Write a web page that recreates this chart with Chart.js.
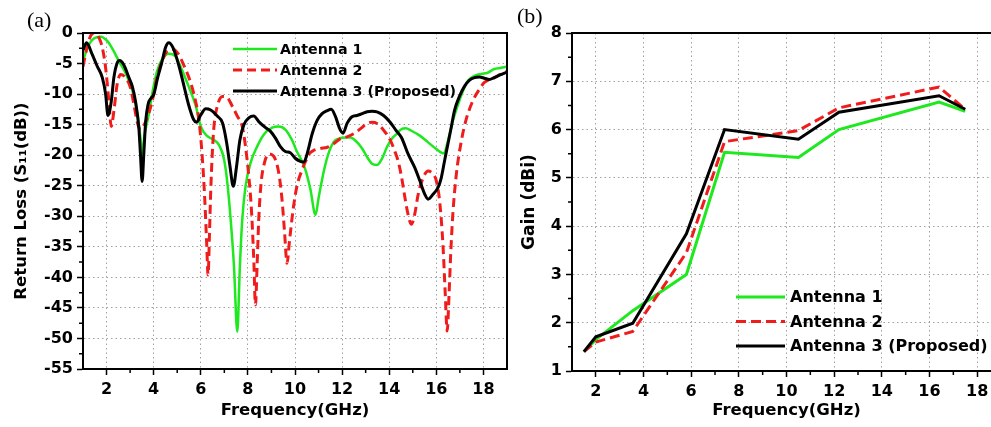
<!DOCTYPE html>
<html lang="en">
<head>
<meta charset="UTF-8">
<title>Return loss and gain of the antennas</title>
<script src="https://cdn.jsdelivr.net/npm/chart.js"></script>
<style>
  html, body { margin: 0; padding: 0; background: #fff; overflow: hidden; }
  body { width: 991px; height: 427px; position: relative; }
  .panel { position: absolute; top: 0; width: 520px; height: 427px; }
  #wrapA { left: 0; }
  #wrapB { left: 500px; }
  .tag { position: absolute; font-family: "Liberation Serif", serif; font-size: 22px; color: #000; line-height: 1; }
</style>
</head>
<body>
<div class="panel" id="wrapA"><canvas id="chartA" width="520" height="427"></canvas></div>
<div class="panel" id="wrapB"><canvas id="chartB" width="520" height="427"></canvas></div>
<div class="tag" style="left:27px; top:9px;">(a)</div>
<div class="tag" style="left:517px; top:5px;">(b)</div>
<script>
// ---- (a) return loss, S11 in dB ----
const freqA1 = [1.0, 1.25, 1.46, 1.75, 2.03, 2.31, 2.52, 2.8, 3.1, 3.3, 3.45, 3.52, 3.6, 3.79, 3.93, 4.14, 4.36, 4.64, 4.92, 5.2,
  5.48, 5.77, 6.0, 6.28, 6.56, 6.77, 6.99, 7.13, 7.27, 7.41, 7.55, 7.66, 7.76, 7.9, 8.11, 8.39, 8.68, 9.03, 9.31, 9.59,
  9.87, 10.08, 10.3, 10.45, 10.66, 10.87, 11.01, 11.23, 11.44, 11.65, 11.86, 12.14, 12.35, 12.56, 12.85, 13.06, 13.27, 13.48, 13.69, 13.9,
  14.11, 14.32, 14.5, 14.7, 14.94, 15.3, 15.65, 16.0, 16.32, 16.49, 16.7, 16.92, 17.13, 17.34, 17.62, 17.9, 18.18, 18.46, 18.75, 19.0];
const lossA1 = [-4.5, -1.9, -0.9, -0.6, -1.3, -3.0, -4.6, -6.5, -9.5, -13, -17.5, -20, -17, -13.4, -10.1, -6.3, -4.3, -3.4, -3.8, -6,
  -8.7, -11.7, -15.3, -16.9, -17.5, -18.3, -20.7, -24.6, -30.6, -38.2, -48.9, -38.2, -30.6, -25.1, -21.3, -18.6, -16.6, -15.5, -15.3, -15.8,
  -17.5, -19.4, -21, -22.5, -25.7, -29.8, -26.8, -22.5, -19.5, -17.8, -17.3, -17.1, -17.1, -17.6, -18.9, -20.3, -21.4, -21.6, -20.6, -18.7,
  -17.3, -16.5, -15.8, -15.6, -16, -16.8, -17.9, -19, -19.7, -17.7, -14.4, -11.7, -9.5, -7.8, -7, -6.7, -6.5, -5.9, -5.7, -5.5];

const freqA2 = [1.0, 1.18, 1.32, 1.46, 1.68, 1.82, 1.96, 2.1, 2.2, 2.31, 2.45, 2.6, 2.75, 3.02, 3.16, 3.33, 3.45, 3.6, 3.72, 3.86,
  3.97, 4.14, 4.36, 4.57, 4.85, 5.06, 5.27, 5.55, 5.77, 5.93, 6.07, 6.17, 6.25, 6.31, 6.37, 6.42, 6.49, 6.56, 6.7, 6.92,
  7.13, 7.34, 7.55, 7.76, 7.9, 8.04, 8.15, 8.25, 8.32, 8.39, 8.46, 8.56, 8.7, 8.89, 9.1, 9.31, 9.45, 9.56, 9.66, 9.77,
  9.92, 10.08, 10.3, 10.45, 10.6, 10.8, 11.08, 11.37, 11.65, 11.93, 12.21, 12.49, 12.77, 13.06, 13.27, 13.48, 13.76, 14.04, 14.25, 14.38,
  14.52, 14.66, 14.8, 14.94, 15.08, 15.23, 15.44, 15.65, 15.86, 16.0, 16.14, 16.28, 16.38, 16.46, 16.54, 16.61, 16.7, 16.85, 17.06, 17.27,
  17.55, 17.83, 18.04, 18.32, 18.61, 19.0];
const lossA2 = [-5.5, -2.2, -0.5, 0, -0.8, -2.4, -5.7, -11.2, -15.3, -12.8, -8.4, -6.8, -7.1, -9, -11.7, -15, -15.8, -15, -13.9, -12.3,
  -10.6, -7.3, -4.6, -3, -2.7, -3.5, -5.2, -7.9, -11, -14.5, -20.7, -27.3, -34.4, -39.6, -32.8, -26.2, -19.6, -15.3, -12, -10.4,
  -10.6, -12, -13.6, -15.3, -18.6, -23.5, -28.9, -37.1, -44.5, -38.2, -30.6, -24.6, -21.3, -19.8, -20.2, -22.9, -27.3, -32.8, -37.7, -33.9,
  -28.9, -25.1, -22.4, -21, -19.8, -19.2, -18.9, -18.7, -18.1, -17.3, -17, -16.5, -15.7, -14.8, -14.6, -14.8, -15.9, -17.5, -19.5, -21,
  -23.5, -26.8, -29.7, -31.3, -29.7, -26.4, -23.7, -22.6, -23.1, -24.2, -27.5, -34.6, -42.8, -48.8, -42.8, -36.2, -29.7, -23.1, -17.7, -14.1,
  -11.1, -9.2, -8.1, -7.6, -7, -6.3];

const freqA3 = [1.0, 1.15, 1.39, 1.6, 1.82, 1.96, 2.06, 2.2, 2.31, 2.45, 2.56, 2.73, 2.95, 3.09, 3.23, 3.37, 3.44, 3.51, 3.58, 3.66,
  3.76, 3.9, 4.0, 4.17, 4.36, 4.5, 4.64, 4.82, 5.06, 5.27, 5.48, 5.7, 5.82, 6.0, 6.21, 6.42, 6.7, 6.92, 7.1, 7.24,
  7.38, 7.52, 7.66, 7.83, 8.04, 8.25, 8.46, 8.75, 8.96, 9.17, 9.38, 9.59, 9.8, 10.01, 10.23, 10.38, 10.52, 10.73, 10.94, 11.15,
  11.37, 11.54, 11.72, 11.9, 12.04, 12.21, 12.42, 12.63, 12.85, 13.06, 13.27, 13.48, 13.76, 14.04, 14.3, 14.52, 14.8, 15.08, 15.3, 15.51,
  15.65, 15.86, 16.07, 16.21, 16.35, 16.49, 16.63, 16.77, 16.99, 17.2, 17.41, 17.62, 17.83, 18.04, 18.25, 18.46, 18.68, 19.0];
const lossA3 = [-2.8, -1.6, -3.5, -5.4, -7.3, -10, -13.5, -11.2, -7.3, -4.9, -4.5, -5.2, -7.3, -8.7, -11.2, -15.5, -19.9, -24.3, -19.9, -14.5,
  -11.7, -10.6, -10.1, -7.3, -4.6, -2.4, -1.6, -2.4, -5.2, -8.4, -11.7, -14.2, -14.6, -13.4, -12.4, -12.6, -13.6, -14.7, -18, -21.8,
  -25.1, -21.8, -17.5, -15, -13.9, -13.6, -14.5, -15.5, -16.1, -17.2, -18.6, -19.4, -19.6, -20.5, -21, -21.1, -19.7, -16.5, -14.3, -13.2,
  -12.7, -12.5, -13.7, -15.7, -16.4, -14.8, -13.7, -13.5, -13.2, -12.9, -12.8, -12.9, -13.5, -14.6, -16, -17.1, -19.8, -22, -24.2, -26.4,
  -27.2, -26.4, -25.3, -23.7, -20.9, -18.2, -15.5, -12.7, -10.3, -8.7, -7.7, -7.3, -7.2, -7.4, -7.6, -7.3, -6.9, -6.4];

const xTicksA = [2, 4, 6, 8, 10, 12, 14, 16, 18];
const yTicksA = [0, -5, -10, -15, -20, -25, -30, -35, -40, -45, -50, -55];
const xMinorA = [3, 5, 7, 9, 11, 13, 15, 17];
const yMinorA = [-2.5, -7.5, -12.5, -17.5, -22.5, -27.5, -32.5, -37.5, -42.5, -47.5, -52.5];

// ---- (b) gain in dBi ----
const freqB = [1.5, 2, 3.55, 5.8, 7.4, 10.5, 12.2, 16.4, 17.5];
const gainB1 = [1.4, 1.65, 2.25, 3.0, 5.53, 5.42, 6.0, 6.57, 6.38];
const gainB2 = [1.4, 1.6, 1.82, 3.45, 5.75, 5.98, 6.45, 6.88, 6.42];
const gainB3 = [1.4, 1.71, 1.99, 3.84, 6.0, 5.8, 6.36, 6.7, 6.42];

const xTicksB = [2, 4, 6, 8, 10, 12, 14, 16, 18];
const yTicksB = [1, 2, 3, 4, 5, 6, 7, 8];
const xMinorB = [3, 5, 7, 9, 11, 13, 15, 17];
const yMinorB = [1.5, 2.5, 3.5, 4.5, 5.5, 6.5, 7.5];

const labels = ['Antenna 1', 'Antenna 2', 'Antenna 3 (Proposed)'];
const FAMILY = "'DejaVu Sans', sans-serif";

function pts(xs, ys) {
  return xs.map((x, i) => ({ x: x, y: ys[i] }));
}

// box, minor ticks and the legend inside the plot
const framePlugin = {
  id: 'frame',
  afterDatasetsDraw(chart, args, opts) {
    const { ctx, chartArea: a, scales } = chart;
    ctx.save();
    ctx.strokeStyle = '#000';
    ctx.lineWidth = 1.5;
    ctx.setLineDash([]);
    ctx.beginPath();
    opts.xMinor.forEach(v => {
      const px = scales.x.getPixelForValue(v);
      ctx.moveTo(px, a.bottom);
      ctx.lineTo(px, a.bottom + opts.minorLen);
    });
    opts.yMinor.forEach(v => {
      const py = scales.y.getPixelForValue(v);
      ctx.moveTo(a.left, py);
      ctx.lineTo(a.left - opts.minorLen, py);
    });
    ctx.stroke();
    ctx.lineWidth = 2;
    ctx.strokeRect(a.left, a.top, a.right - a.left, a.bottom - a.top);

    const lg = opts.legend;
    ctx.font = 'bold ' + lg.size + 'px ' + FAMILY;
    ctx.textBaseline = 'middle';
    ctx.fillStyle = '#000';
    chart.data.datasets.forEach((ds, i) => {
      const y = lg.y + i * lg.gap;
      ctx.strokeStyle = ds.borderColor;
      ctx.lineWidth = ds.borderWidth;
      ctx.setLineDash(ds.borderDash || []);
      ctx.beginPath();
      ctx.moveTo(lg.x, y);
      ctx.lineTo(lg.x + lg.len, y);
      ctx.stroke();
      ctx.fillText(ds.label, lg.x + lg.len + lg.textGap, y + 1);
    });
    ctx.restore();
  }
};

function axes(cfg) {
  const font = { family: FAMILY, weight: 'bold', size: 16 };
  const titleFont = { family: FAMILY, weight: 'bold', size: 16.5 };
  return {
    x: {
      type: 'linear', min: cfg.xMin, max: cfg.xMax,
      afterBuildTicks: s => { s.ticks = cfg.xTicks.map(v => ({ value: v })); },
      afterFit: s => { s.height = cfg.xHeight; },
      ticks: { font: font, color: '#000', padding: 5, maxRotation: 0, autoSkip: false },
      grid: { color: '#a0a0a0', lineWidth: 1, tickLength: 6, tickColor: '#000', tickWidth: 1.5, tickBorderDash: [] },
      border: { color: '#000', width: 2, dash: [1.5, 3] },
      title: { display: true, text: 'Frequency(GHz)', font: titleFont, color: '#000', padding: { top: 0, bottom: 6 } }
    },
    y: {
      type: 'linear', min: cfg.yMin, max: cfg.yMax,
      afterBuildTicks: s => { s.ticks = cfg.yTicks.map(v => ({ value: v })); },
      afterFit: s => { s.width = cfg.yWidth; },
      ticks: { font: font, color: '#000', padding: 4, callback: v => String(v) },
      grid: { color: '#a0a0a0', lineWidth: 1, tickLength: 6, tickColor: '#000', tickWidth: 1.5, tickBorderDash: [] },
      border: { color: '#000', width: 2, dash: [1.5, 3] },
      title: { display: true, text: cfg.yTitle, font: { family: FAMILY, weight: 'bold', size: cfg.yTitleSize }, color: '#000', padding: { top: cfg.yTitlePad, bottom: 0 } }
    }
  };
}

new Chart(document.getElementById('chartA'), {
  type: 'line',
  data: {
    datasets: [
      { label: labels[0], data: pts(freqA1, lossA1), borderColor: '#1ee81e', borderWidth: 2.5, order: 3 },
      { label: labels[1], data: pts(freqA2, lossA2), borderColor: '#f01c1c', borderWidth: 3, borderDash: [9, 5], order: 2 },
      { label: labels[2], data: pts(freqA3, lossA3), borderColor: '#000000', borderWidth: 3, order: 1 }
    ]
  },
  options: {
    responsive: false,
    animation: false,
    layout: { padding: { top: 33, right: 13, bottom: 0, left: 0 } },
    elements: { point: { radius: 0 }, line: { tension: 0.4, cubicInterpolationMode: 'monotone', fill: false } },
    scales: axes({ xMin: 1, xMax: 19, xTicks: xTicksA, xHeight: 58, yMin: -55, yMax: 0, yTicks: yTicksA, yWidth: 83,
      yTitle: 'Return Loss (S\u2081\u2081(dB))', yTitleSize: 16.5, yTitlePad: 12 }),
    plugins: {
      legend: { display: false },
      tooltip: { enabled: false },
      frame: { xMinor: xMinorA, yMinor: yMinorA, minorLen: 4,
        legend: { x: 233, y: 49, gap: 21, len: 44, textGap: 3, size: 14.25 } }
    }
  },
  plugins: [framePlugin]
});

new Chart(document.getElementById('chartB'), {
  type: 'line',
  data: {
    datasets: [
      { label: labels[0], data: pts(freqB, gainB1), borderColor: '#1ee81e', borderWidth: 3, order: 3 },
      { label: labels[1], data: pts(freqB, gainB2), borderColor: '#f01c1c', borderWidth: 3, borderDash: [10, 5], order: 2 },
      { label: labels[2], data: pts(freqB, gainB3), borderColor: '#000000', borderWidth: 3, order: 1 }
    ]
  },
  options: {
    responsive: false,
    animation: false,
    layout: { padding: { top: 33, right: 19, bottom: 0, left: 0 } },
    elements: { point: { radius: 0 }, line: { tension: 0, fill: false } },
    scales: axes({ xMin: 1, xMax: 19, xTicks: xTicksB, xHeight: 56, yMin: 1, yMax: 8, yTicks: yTicksB, yWidth: 72,
      yTitle: 'Gain (dBi)', yTitleSize: 17, yTitlePad: 19 }),
    plugins: {
      legend: { display: false },
      tooltip: { enabled: false },
      frame: { xMinor: xMinorB, yMinor: yMinorB, minorLen: 4,
        legend: { x: 236, y: 297, gap: 24.5, len: 49, textGap: 5, size: 16 } }
    }
  },
  plugins: [framePlugin]
});
</script>
</body>
</html>
